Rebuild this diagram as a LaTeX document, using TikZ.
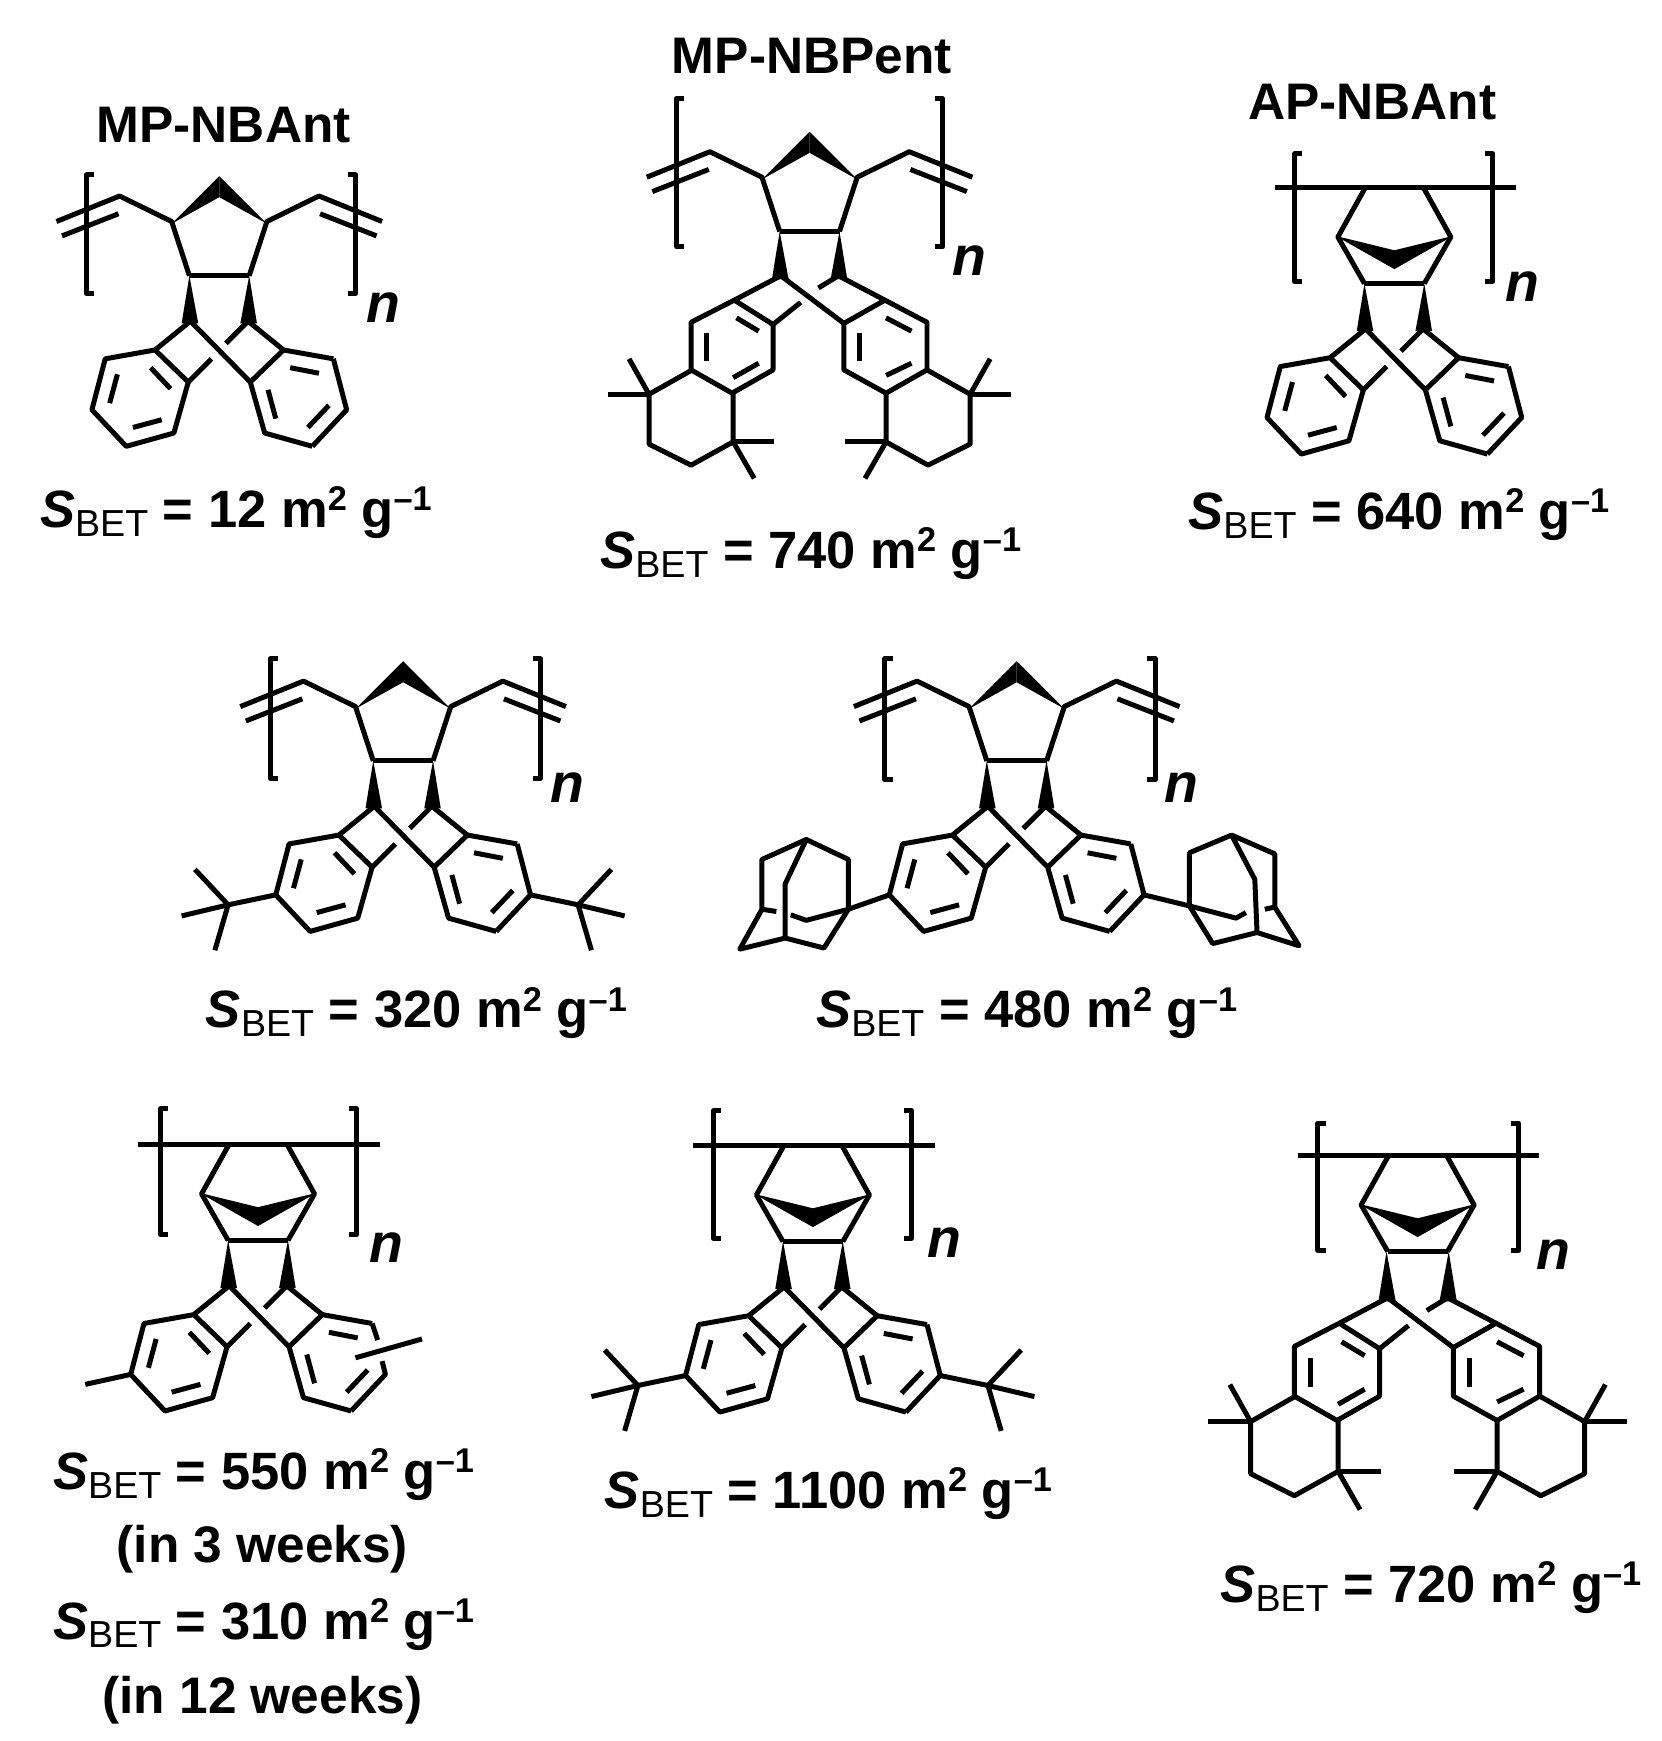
\documentclass[tikz,border=0pt]{standalone}
\usepackage{fontspec}
\setmainfont{Liberation Sans}
\newcommand{\lblsize}{\fontsize{23.7}{28}\selectfont\bfseries}
\newcommand{\supsz}[1]{\raisebox{7.5pt}{\fontsize{15.5}{16}\selectfont\bfseries #1}}
\newcommand{\sbetlabel}[1]{\lblsize\textit{S}\raisebox{-4pt}{\fontsize{17}{18}\selectfont\mdseries BET} = #1 m\supsz{2} g\supsz{–1}}
\newcommand{\bothsides}[1]{#1\begin{scope}[xscale=-1]#1\end{scope}}
\newcommand{\brackets}[4]{\draw[bond] ({#1+7},#3) -- (#1,#3) -- (#1,#4) -- ({#1+7},#4);\draw[bond] ({#2-7},#3) -- (#2,#3) -- (#2,#4) -- ({#2-7},#4);}
\newcommand{\mpTop}{\bothsides{\fill (43,-47) -- (0,-90) -- (0,-71) -- cycle;
  \draw[bond] (27,0) -- (43,-49) -- (90,-72) -- (147,-49);
  \draw[bond] (91,-56) -- (142,-36);}
  \draw[bond] (-27,0) -- (27,0);}
\newcommand{\apTop}{\draw[bond] (-108,-87) -- (110,-87);
  \bothsides{\draw[bond] (26,-87) -- (51,-42) -- (27,0);}
  \draw[bond] (-27,0) -- (27,0);
  \fill (-53,-43) -- (0,-30) -- (53,-43) -- (0,-13) -- cycle;}
\newcommand{\wedges}{\bothsides{\fill (27,0) -- (19,43) -- (34,43) -- cycle;}}
\newcommand{\antLeft}{\wedges
  \draw[bond] (-26,41) -- (-58,67) -- (-103,75) -- (-115,121) -- (-84,154) -- (-41,142) -- (-28,96) -- (-58,67);
  \draw[bond] (26,41) -- (58,67) -- (28,96);
  \draw[bond] (-26,41) -- (28,96) -- (41,142) -- (84,154);
  \draw[bond] (58,67) -- (103,75);
  \draw[bond] (26,41) -- (6,61);
  \draw[bond] (-7,75) -- (-28,96);
  \draw[bond] (-62,83) -- (-44,102);
  \draw[bond] (-99,115) -- (-92,89);
  \draw[bond] (-78,137) -- (-52,130);
  \draw[bond] (64,83) -- (90,88);
  \draw[bond] (51,129) -- (44,103);
  \draw[bond] (80,137) -- (99,117);}
\newcommand{\antCore}{\antLeft
  \draw[bond] (103,75) -- (115,121) -- (84,154);}
\newcommand{\tbuLeft}{\draw[bond] (-115,121) -- (-158,130);
  \draw[bond] (-158,130) -- (-188,98);
  \draw[bond] (-158,130) -- (-200,140);
  \draw[bond] (-158,130) -- (-170,171);}
\newcommand{\pentCore}{\wedges
  \draw[bond] (-26,40) -- (-68,62) -- (-107,82) -- (-107,125) -- (-70,146) -- (-33,125) -- (-33,84) -- (-68,62);
  \draw[bond] (26,40) -- (68,62) -- (31,83) -- (31,125) -- (69,146) -- (106,125) -- (106,82) -- (68,62);
  \draw[bond] (-26,40) -- (31,83);
  \draw[bond] (26,40) -- (8,51);
  \draw[bond] (-8,64) -- (-33,84);
  \draw[bond] (-66,78) -- (-46,90);
  \draw[bond] (-93,92) -- (-93,117);
  \draw[bond] (-69,132) -- (-46,119);
  \draw[bond] (69,78) -- (92,90);
  \draw[bond] (45,92) -- (45,117);
  \draw[bond] (69,130) -- (92,119);
  \bothsides{\draw[bond] (106,125) -- (145,147) -- (145,192) -- (107,211) -- (69,190) -- (69,146);
    \draw[bond] (145,147) -- (163,115);
    \draw[bond] (145,147) -- (182,147);
    \draw[bond] (69,190) -- (32,190);
    \draw[bond] (69,190) -- (50,223);}}
\begin{document}
\begin{tikzpicture}[x=0.5pt,y=-0.5pt,
  bond/.style={line width=2.25pt,line join=round,line cap=butt},
  title/.style={anchor=base,inner sep=0pt,font=\fontsize{23.2}{28}\selectfont\bfseries},
  value/.style={anchor=base,inner sep=0pt},
  repeat/.style={anchor=base,inner sep=0pt,font=\fontsize{23.2}{28}\selectfont\bfseries},
  nlabel/.style={anchor=base,inner sep=0pt,font=\fontsize{25}{28}\selectfont\bfseries\itshape}]
\useasboundingbox (0,0) rectangle (1500,1572);
\fill[white] (0,0) rectangle (1500,1572);

% MP-NBAnt
\begin{scope}[shift={(198,249)}]
  \mpTop \antCore \brackets{-120}{123}{-91}{16}
\end{scope}
% MP-NBPent
\begin{scope}[shift={(731,209)}]
  \mpTop \pentCore \brackets{-120}{120}{-120}{14}
\end{scope}
% AP-NBAnt
\begin{scope}[shift={(1259,256)}]
  \apTop \antCore \brackets{-90}{89}{-117}{-2}
\end{scope}
% tBu MP
\begin{scope}[shift={(364,687)}]
  \mpTop \antCore \tbuLeft \begin{scope}[xscale=-1]\tbuLeft\end{scope}
  \brackets{-120}{124}{-92}{16}
\end{scope}
% adamantyl MP
\begin{scope}[shift={(918,687)}]
  \mpTop \antCore \brackets{-119}{125}{-92}{17}
  \draw[bond] (-115,121) -- (-152,134);
  \draw[bond] (-190,71) -- (-230,89) -- (-230,134) -- (-250,170) -- (-209,160) -- (-174,169) -- (-152,134) -- (-152,89) -- (-190,71) -- (-209,111) -- (-209,160);
  \draw[bond] (-152,134) -- (-190,144) -- (-204,139);
  \draw[bond] (-217,136) -- (-230,134);
  \draw[bond] (115,121) -- (156,131);
  \draw[bond] (194,67) -- (156,83) -- (156,131) -- (177,165) -- (217,155) -- (255,167) -- (233,132) -- (233,84) -- (194,67) -- (215,107) -- (217,155);
  \draw[bond] (156,131) -- (198,142) -- (207,137);
  \draw[bond] (224,134) -- (233,132);
\end{scope}
% methyl AP
\begin{scope}[shift={(233,1120)}]
  \apTop \antLeft \brackets{-88}{89}{-119}{-5}
  \draw[bond] (103,75) -- (108,90);
  \draw[bond] (112,109) -- (115,121) -- (84,154);
  \draw[bond] (-115,121) -- (-156,130);
  \draw[bond] (88,106) -- (148,89);
\end{scope}
% tBu AP
\begin{scope}[shift={(734,1121)}]
  \apTop \antCore \tbuLeft \begin{scope}[xscale=-1]\tbuLeft\end{scope}
  \brackets{-90}{89}{-118}{-3}
\end{scope}
% pentamethyl AP
\begin{scope}[shift={(1280,1130)}]
  \apTop
  \begin{scope}[xscale=1.04,yscale=1.045]\pentCore\end{scope}
  \brackets{-90}{91}{-116}{-1}
\end{scope}

\node[title] (t1) at (202,129) {MP-NBAnt};
\node[title] (t2) at (733,66) {MP-NBPent};
\node[title] (t3) at (1239,108) {AP-NBAnt};
\node[value] (v1) at (213,476) {\sbetlabel{12}};
\node[value] (v2) at (732,513) {\sbetlabel{740}};
\node[value] (v3) at (1263,478) {\sbetlabel{640}};
\node[value] (v4) at (376,928) {\sbetlabel{320}};
\node[value] (v5) at (927,928) {\sbetlabel{480}};
\node[value] (v6) at (238,1345) {\sbetlabel{550}};
\node[repeat] (w3) at (237,1411) {(in 3 weeks)};
\node[value] (v6b) at (238,1480) {\sbetlabel{310}};
\node[repeat] (w12) at (237,1547) {(in 12 weeks)};
\node[value] (v7) at (748,1362) {\sbetlabel{1100}};
\node[value] (v8) at (1292,1447) {\sbetlabel{720}};
\node[nlabel] (n1) at (346,291) {n};
\node[nlabel] (n2) at (875,249) {n};
\node[nlabel] (n3) at (1375,272) {n};
\node[nlabel] (n4) at (512,725) {n};
\node[nlabel] (n5) at (1067,725) {n};
\node[nlabel] (n6) at (349,1140) {n};
\node[nlabel] (n7) at (853,1135) {n};
\node[nlabel] (n8) at (1403,1146) {n};
\end{tikzpicture}
\end{document}
